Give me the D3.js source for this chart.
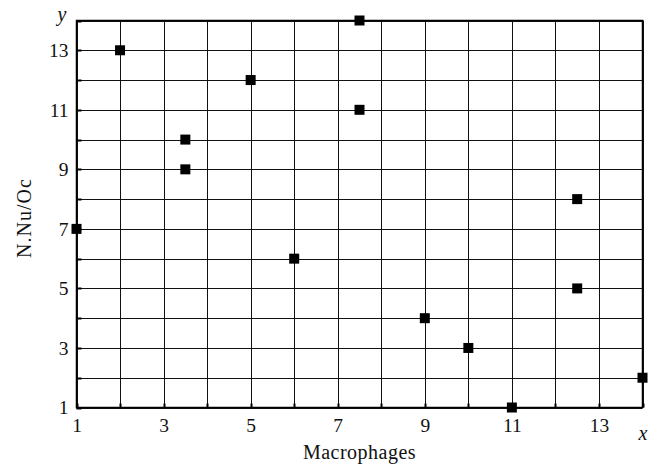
<!DOCTYPE html>
<html>
<head>
<meta charset="utf-8">
<script src="https://cdn.jsdelivr.net/npm/d3@7"></script>
<style>
  html, body { margin: 0; padding: 0; background: #fff; }
  svg { display: block; }
  text { font-family: "Liberation Serif", "Times New Roman", serif; fill: #111; }
</style>
</head>
<body>
<svg id="chart" width="656" height="464"></svg>
<script>
// Data
const xValues = [1, 2, 3.5, 3.5, 5, 6, 7.5, 7.5, 9, 10, 11, 12.5, 12.5, 14];
const yValues = [7, 13, 10, 9, 12, 6, 14, 11, 4, 3, 1, 8, 5, 2];
const xTickLabels = [1, 3, 5, 7, 9, 11, 13];
const yTickLabels = [1, 3, 5, 7, 9, 11, 13];
const xGrid = [1,2,3,4,5,6,7,8,9,10,11,12,13,14];
const yGrid = [1,2,3,4,5,6,7,8,9,10,11,12,13,14];
const xTitle = "Macrophages";
const yTitle = "N.Nu/Oc";

(function () {
const svg = d3.select("#chart");
const mL = 76.5, mR = 642.5, mT = 20.5, mB = 407.5;

const x = d3.scaleLinear().domain([1, 14]).range([mL, mR]);
const y = d3.scaleLinear().domain([1, 14]).range([mB, mT]);

// Grid
const g = svg.append("g");
g.selectAll("line.vg").data(xGrid).join("line").attr("class", "vg")
  .attr("x1", d => Math.round(x(d)) + 0.5).attr("x2", d => Math.round(x(d)) + 0.5)
  .attr("y1", mT).attr("y2", mB)
  .attr("stroke", "#111").attr("stroke-width", 1);
g.selectAll("line.hg").data(yGrid).join("line").attr("class", "hg")
  .attr("y1", d => Math.round(y(d)) + 0.5).attr("y2", d => Math.round(y(d)) + 0.5)
  .attr("x1", mL).attr("x2", mR)
  .attr("stroke", "#111").attr("stroke-width", 1);

// Inward tick marks
g.selectAll("line.xt").data(xGrid).join("line").attr("class", "xt")
  .attr("x1", d => Math.round(x(d)) + 0.5).attr("x2", d => Math.round(x(d)) + 0.5)
  .attr("y1", mB).attr("y2", mB - 4)
  .attr("stroke", "#000").attr("stroke-width", 2);
g.selectAll("line.yt").data(yGrid).join("line").attr("class", "yt")
  .attr("y1", d => Math.round(y(d)) + 0.5).attr("y2", d => Math.round(y(d)) + 0.5)
  .attr("x1", mL).attr("x2", mL + 5)
  .attr("stroke", "#000").attr("stroke-width", 2);

// Frame
svg.append("rect").attr("x", mL).attr("y", mT)
  .attr("width", mR - mL).attr("height", mB - mT)
  .attr("fill", "none").attr("stroke", "#000").attr("stroke-width", 1.5);

// Axis tick labels via d3 axes (lines hidden)
const xAxis = svg.append("g").attr("transform", `translate(0,${mB})`)
  .call(d3.axisBottom(x).tickValues(xTickLabels).tickFormat(d3.format("d")).tickSize(0).tickPadding(11));
xAxis.select(".domain").remove();
xAxis.selectAll("text").attr("font-size", 19.5).attr("font-family", "Liberation Serif").attr("fill", "#111");

const yAxis = svg.append("g").attr("transform", `translate(${mL},0)`)
  .call(d3.axisLeft(y).tickValues(yTickLabels).tickFormat(d3.format("d")).tickSize(0).tickPadding(8));
yAxis.select(".domain").remove();
yAxis.selectAll("text").attr("font-size", 19.5).attr("font-family", "Liberation Serif").attr("fill", "#111");

// Points
const pts = xValues.map((v, i) => ({x: v, y: yValues[i]}));
const s = 10;
svg.append("g").selectAll("rect").data(pts).join("rect")
  .attr("x", d => x(d.x) - s / 2).attr("y", d => y(d.y) - s / 2)
  .attr("width", s).attr("height", s).attr("fill", "#000");

// Titles
svg.append("text").attr("x", (mL + mR) / 2).attr("y", 459)
  .attr("text-anchor", "middle").attr("font-size", 20).attr("letter-spacing", 0.5).text(xTitle);
svg.append("text").attr("transform", `translate(31,${(mT + mB) / 2 + 4}) rotate(-90)`)
  .attr("text-anchor", "middle").attr("font-size", 20).attr("letter-spacing", 1).text(yTitle);

svg.append("text").attr("x", 643).attr("y", 440).attr("text-anchor", "middle")
  .attr("font-size", 20).attr("font-style", "italic").text("x");
svg.append("text").attr("x", 62).attr("y", 21).attr("text-anchor", "middle")
  .attr("font-size", 20).attr("font-style", "italic").text("y");
})();
</script>
</body>
</html>
